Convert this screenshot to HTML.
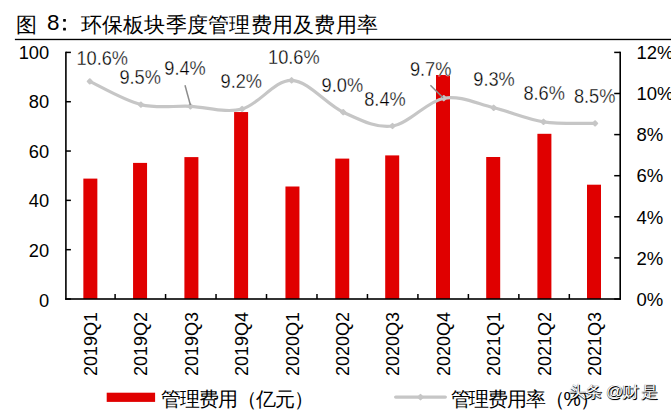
<!DOCTYPE html>
<html><head><meta charset="utf-8"><style>
html,body{position:relative;margin:0;padding:0;background:#fff;width:671px;height:413px;overflow:hidden}
svg{display:block}
text{font-family:"Liberation Sans",sans-serif;fill:#000}
</style></head><body>
<svg width="671" height="413" viewBox="0 0 671 413">

<text x="16.2" y="31.6" font-size="20.6">图</text>
<text x="47.1" y="29.8" font-size="22.4">8</text>
<rect x="63.1" y="18.9" width="2.8" height="2.8" rx="0.6" fill="#000"/><rect x="63.1" y="27.7" width="2.8" height="2.8" rx="0.6" fill="#000"/>
<text x="80.60 101.85 123.10 144.35 165.60 186.85 208.10 229.35 250.60 271.85 293.10 314.35 335.60 356.85" y="32" font-size="21.2">环保板块季度管理费用及费用率</text>
<rect x="14.9" y="38.8" width="657" height="1.35" fill="#000"/>
<rect x="83.35" y="178.60" width="14.00" height="120.40" fill="#e00000"/>
<rect x="133.06" y="162.90" width="14.00" height="136.10" fill="#e00000"/>
<rect x="184.40" y="157.10" width="14.00" height="141.90" fill="#e00000"/>
<rect x="234.10" y="112.05" width="14.00" height="186.95" fill="#e00000"/>
<rect x="285.45" y="186.50" width="14.00" height="112.50" fill="#e00000"/>
<rect x="335.25" y="158.60" width="14.00" height="140.40" fill="#e00000"/>
<rect x="385.20" y="155.40" width="14.00" height="143.60" fill="#e00000"/>
<rect x="436.00" y="75.00" width="14.00" height="224.00" fill="#e00000"/>
<rect x="486.20" y="157.00" width="14.00" height="142.00" fill="#e00000"/>
<rect x="537.40" y="133.80" width="14.00" height="165.20" fill="#e00000"/>
<rect x="587.00" y="184.70" width="14.00" height="114.30" fill="#e00000"/>
<rect x="65.10" y="51.70" width="1.6" height="248.00" fill="#000"/>
<rect x="619.40" y="51.70" width="1.6" height="248.00" fill="#000"/>
<rect x="65.10" y="298.20" width="555.90" height="1.6" fill="#000"/>
<rect x="65.90" y="51.65" width="5" height="1.5" fill="#000"/>
<text x="49.2" y="58.65" font-size="18.3" text-anchor="end">100</text>
<rect x="65.90" y="100.97" width="5" height="1.5" fill="#000"/>
<text x="49.2" y="108.22" font-size="18.3" text-anchor="end">80</text>
<rect x="65.90" y="150.29" width="5" height="1.5" fill="#000"/>
<text x="49.2" y="157.79" font-size="18.3" text-anchor="end">60</text>
<rect x="65.90" y="199.61" width="5" height="1.5" fill="#000"/>
<text x="49.2" y="207.36" font-size="18.3" text-anchor="end">40</text>
<rect x="65.90" y="248.93" width="5" height="1.5" fill="#000"/>
<text x="49.2" y="256.93" font-size="18.3" text-anchor="end">20</text>
<rect x="65.90" y="298.25" width="5" height="1.5" fill="#000"/>
<text x="49.2" y="306.50" font-size="18.3" text-anchor="end">0</text>
<rect x="614.20" y="51.65" width="6" height="1.5" fill="#000"/>
<text x="636.4" y="58.80" font-size="18.5">12%</text>
<rect x="614.20" y="92.75" width="6" height="1.5" fill="#000"/>
<text x="636.4" y="100.03" font-size="18.5">10%</text>
<rect x="614.20" y="133.85" width="6" height="1.5" fill="#000"/>
<text x="636.4" y="141.25" font-size="18.5">8%</text>
<rect x="614.20" y="174.95" width="6" height="1.5" fill="#000"/>
<text x="636.4" y="182.47" font-size="18.5">6%</text>
<rect x="614.20" y="216.05" width="6" height="1.5" fill="#000"/>
<text x="636.4" y="223.70" font-size="18.5">4%</text>
<rect x="614.20" y="257.15" width="6" height="1.5" fill="#000"/>
<text x="636.4" y="264.93" font-size="18.5">2%</text>
<rect x="614.20" y="298.25" width="6" height="1.5" fill="#000"/>
<text x="636.4" y="306.15" font-size="18.5">0%</text>
<rect x="114.35" y="294.00" width="1.5" height="5" fill="#000"/>
<rect x="164.82" y="294.00" width="1.5" height="5" fill="#000"/>
<rect x="215.29" y="294.00" width="1.5" height="5" fill="#000"/>
<rect x="265.76" y="294.00" width="1.5" height="5" fill="#000"/>
<rect x="316.23" y="294.00" width="1.5" height="5" fill="#000"/>
<rect x="366.70" y="294.00" width="1.5" height="5" fill="#000"/>
<rect x="417.17" y="294.00" width="1.5" height="5" fill="#000"/>
<rect x="467.64" y="294.00" width="1.5" height="5" fill="#000"/>
<rect x="518.11" y="294.00" width="1.5" height="5" fill="#000"/>
<rect x="568.58" y="294.00" width="1.5" height="5" fill="#000"/>
<text transform="translate(96.85,312) rotate(-90)" font-size="18" text-anchor="end">2019Q1</text>
<text transform="translate(146.56,312) rotate(-90)" font-size="18" text-anchor="end">2019Q2</text>
<text transform="translate(197.90,312) rotate(-90)" font-size="18" text-anchor="end">2019Q3</text>
<text transform="translate(247.60,312) rotate(-90)" font-size="18" text-anchor="end">2019Q4</text>
<text transform="translate(298.95,312) rotate(-90)" font-size="18" text-anchor="end">2020Q1</text>
<text transform="translate(348.75,312) rotate(-90)" font-size="18" text-anchor="end">2020Q2</text>
<text transform="translate(398.70,312) rotate(-90)" font-size="18" text-anchor="end">2020Q3</text>
<text transform="translate(449.50,312) rotate(-90)" font-size="18" text-anchor="end">2020Q4</text>
<text transform="translate(499.70,312) rotate(-90)" font-size="18" text-anchor="end">2021Q1</text>
<text transform="translate(550.90,312) rotate(-90)" font-size="18" text-anchor="end">2021Q2</text>
<text transform="translate(600.50,312) rotate(-90)" font-size="18" text-anchor="end">2021Q3</text>
<path d="M89.80,81.40 C98.32,85.27 124.13,100.45 140.90,104.60 C157.67,108.75 173.53,105.57 190.40,106.30 C207.27,107.03 225.23,113.33 242.10,109.00 C258.97,104.67 274.75,79.77 291.60,80.30 C308.45,80.83 326.38,104.58 343.20,112.20 C360.02,119.82 375.73,128.33 392.50,126.00 C409.27,123.67 426.93,101.23 443.80,98.20 C460.67,95.17 477.08,103.87 493.70,107.80 C510.32,111.73 526.60,119.20 543.50,121.80 C560.40,124.40 586.50,123.13 595.10,123.40" fill="none" stroke="#c6c6c6" stroke-width="3.2" stroke-linecap="round"/>
<rect x="87.30" y="78.90" width="5" height="5" rx="1" fill="#c6c6c6" transform="rotate(45 89.80 81.40)"/>
<rect x="138.40" y="102.10" width="5" height="5" rx="1" fill="#c6c6c6" transform="rotate(45 140.90 104.60)"/>
<rect x="187.90" y="103.80" width="5" height="5" rx="1" fill="#c6c6c6" transform="rotate(45 190.40 106.30)"/>
<rect x="239.60" y="106.50" width="5" height="5" rx="1" fill="#c6c6c6" transform="rotate(45 242.10 109.00)"/>
<rect x="289.10" y="77.80" width="5" height="5" rx="1" fill="#c6c6c6" transform="rotate(45 291.60 80.30)"/>
<rect x="340.70" y="109.70" width="5" height="5" rx="1" fill="#c6c6c6" transform="rotate(45 343.20 112.20)"/>
<rect x="390.00" y="123.50" width="5" height="5" rx="1" fill="#c6c6c6" transform="rotate(45 392.50 126.00)"/>
<rect x="441.30" y="95.70" width="5" height="5" rx="1" fill="#c6c6c6" transform="rotate(45 443.80 98.20)"/>
<rect x="491.20" y="105.30" width="5" height="5" rx="1" fill="#c6c6c6" transform="rotate(45 493.70 107.80)"/>
<rect x="541.00" y="119.30" width="5" height="5" rx="1" fill="#c6c6c6" transform="rotate(45 543.50 121.80)"/>
<rect x="592.60" y="120.90" width="5" height="5" rx="1" fill="#c6c6c6" transform="rotate(45 595.10 123.40)"/>
<line x1="185" y1="85.2" x2="190.4" y2="105" stroke="#8c8c8c" stroke-width="1.5"/>
<line x1="430.4" y1="85.2" x2="443" y2="97.8" stroke="#8c8c8c" stroke-width="1.5"/>
<text transform="translate(76.40,64.50) scale(0.93,1)" font-size="19.6" style="stroke:#fff;stroke-width:0.32px;paint-order:fill">10.6%</text>
<text transform="translate(119.40,83.50) scale(0.93,1)" font-size="19.6" style="stroke:#fff;stroke-width:0.32px;paint-order:fill">9.5%</text>
<text transform="translate(164.30,74.50) scale(0.93,1)" font-size="19.6" style="stroke:#fff;stroke-width:0.32px;paint-order:fill">9.4%</text>
<text transform="translate(220.50,87.90) scale(0.93,1)" font-size="19.6" style="stroke:#fff;stroke-width:0.32px;paint-order:fill">9.2%</text>
<text transform="translate(268.00,63.90) scale(0.93,1)" font-size="19.6" style="stroke:#fff;stroke-width:0.32px;paint-order:fill">10.6%</text>
<text transform="translate(321.60,92.10) scale(0.93,1)" font-size="19.6" style="stroke:#fff;stroke-width:0.32px;paint-order:fill">9.0%</text>
<text transform="translate(364.20,105.50) scale(0.93,1)" font-size="19.6" style="stroke:#fff;stroke-width:0.32px;paint-order:fill">8.4%</text>
<text transform="translate(409.90,75.50) scale(0.93,1)" font-size="19.6" style="stroke:#fff;stroke-width:0.32px;paint-order:fill">9.7%</text>
<text transform="translate(473.30,85.90) scale(0.93,1)" font-size="19.6" style="stroke:#fff;stroke-width:0.32px;paint-order:fill">9.3%</text>
<text transform="translate(523.40,99.90) scale(0.93,1)" font-size="19.6" style="stroke:#fff;stroke-width:0.32px;paint-order:fill">8.6%</text>
<text transform="translate(573.90,102.90) scale(0.93,1)" font-size="19.6" style="stroke:#fff;stroke-width:0.32px;paint-order:fill">8.5%</text>
<rect x="106.7" y="392.7" width="48.4" height="9.2" fill="#e00000"/>
<text x="160.5" y="405.7" font-size="19.5" style="letter-spacing:-1.0px">管理费用（亿元）</text>
<rect x="394" y="395.4" width="53" height="3.4" rx="1.7" fill="#c6c6c6"/>
<rect x="417.9" y="394.5" width="5.2" height="5.2" rx="1" fill="#c6c6c6" transform="rotate(45 420.5 397.1)"/>
<text x="450.5" y="405.7" font-size="19.5" style="letter-spacing:-1.15px">管理费用率（%）</text>
</svg>
<div style="position:absolute;left:568.6px;top:381.8px;font-family:'Liberation Sans',sans-serif;font-size:16px;line-height:20px;color:#fff;white-space:nowrap;transform:scaleX(1.07);transform-origin:0 0;text-shadow:0.8px 0.9px 0.4px rgba(0,0,0,1),0.4px 0.5px 1px rgba(0,0,0,0.8),-0.4px -0.3px 0.6px rgba(0,0,0,0.5)">头</div>
<div style="position:absolute;left:584.8px;top:381.8px;font-family:'Liberation Sans',sans-serif;font-size:16px;line-height:20px;color:#fff;white-space:nowrap;transform:scaleX(1.07);transform-origin:0 0;text-shadow:0.8px 0.9px 0.4px rgba(0,0,0,1),0.4px 0.5px 1px rgba(0,0,0,0.8),-0.4px -0.3px 0.6px rgba(0,0,0,0.5)">条</div>
<div style="position:absolute;left:606.3px;top:381.8px;font-family:'Liberation Sans',sans-serif;font-size:16px;line-height:20px;color:#fff;white-space:nowrap;transform:scaleX(1.07);transform-origin:0 0;text-shadow:0.8px 0.9px 0.4px rgba(0,0,0,1),0.4px 0.5px 1px rgba(0,0,0,0.8),-0.4px -0.3px 0.6px rgba(0,0,0,0.5)">@</div>
<div style="position:absolute;left:622.3px;top:381.8px;font-family:'Liberation Sans',sans-serif;font-size:16px;line-height:20px;color:#fff;white-space:nowrap;transform:scaleX(1.07);transform-origin:0 0;text-shadow:0.8px 0.9px 0.4px rgba(0,0,0,1),0.4px 0.5px 1px rgba(0,0,0,0.8),-0.4px -0.3px 0.6px rgba(0,0,0,0.5)">财</div>
<div style="position:absolute;left:640.6px;top:381.8px;font-family:'Liberation Sans',sans-serif;font-size:16px;line-height:20px;color:#fff;white-space:nowrap;transform:scaleX(1.07);transform-origin:0 0;text-shadow:0.8px 0.9px 0.4px rgba(0,0,0,1),0.4px 0.5px 1px rgba(0,0,0,0.8),-0.4px -0.3px 0.6px rgba(0,0,0,0.5)">是</div>
</body></html>
